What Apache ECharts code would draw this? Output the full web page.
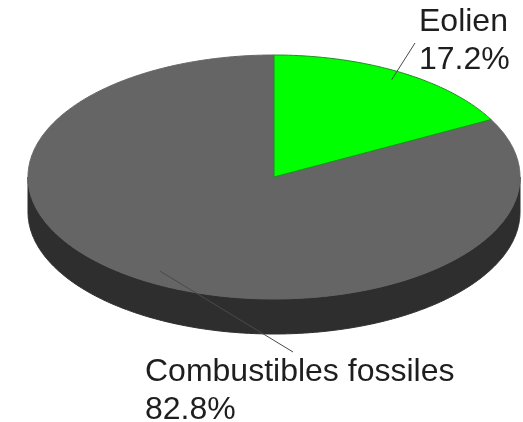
<!DOCTYPE html>
<html>
<head>
<meta charset="utf-8">
<script src="https://cdn.jsdelivr.net/npm/echarts@6/dist/echarts.min.js"></script>
<style>
html,body{margin:0;padding:0;background:#fff;}
#main{width:523px;height:422px;}
</style>
</head>
<body>
<div id="main"></div>
<script>
// ---- data ----
const categories = ['Eolien', 'Combustibles fossiles'];
const values = [17.2, 82.8];
const topColors = ['#00ff00', '#656565'];
const borderColors = ['#1e8c1e', '#656565'];
const sideColors = ['#1c9a1c', '#2e2e2e'];

// ---- layout ----
const L = {
  cx: 274, cy: 177, rx: 246, ry: 122, depth: 35,
  labelFont: 32, labelLine: 38,
  // label anchor (left x, first-line baseline) and leader end per item
  labels: [
    { x: 419, base: 33, lx: 415, ly: 43, r: 0.93 },
    { x: 145, base: 383, lx: 293, ly: 352, r: 0.9 }
  ]
};

const total = values.reduce((a, b) => a + b, 0);
function angles(i) {
  let before = 0;
  for (let k = 0; k < i; k++) before += values[k];
  return [before / total * Math.PI * 2, (before + values[i]) / total * Math.PI * 2];
}
function pt(t, r, dy) {
  r = r == null ? 1 : r;
  return [L.cx + L.rx * r * Math.sin(t), L.cy - L.ry * r * Math.cos(t) + (dy || 0)];
}
function arc(a0, a1, dy) {
  const n = Math.max(2, Math.ceil(Math.abs(a1 - a0) / 0.01));
  const out = [];
  for (let j = 0; j <= n; j++) out.push(pt(a0 + (a1 - a0) * j / n, 1, dy));
  return out;
}

const chart = echarts.init(document.getElementById('main'), null, { renderer: 'canvas' });
chart.setOption({
  animation: false,
  backgroundColor: '#ffffff',
  series: [
    {
      type: 'custom', coordinateSystem: 'none', silent: true, z: 1,
      data: values,
      renderItem: function (params, api) {
        const i = params.dataIndex;
        const a = angles(i);
        const s = Math.max(a[0], Math.PI / 2), e = Math.min(a[1], Math.PI * 1.5);
        if (e <= s) return { type: 'group', children: [] };
        const top = arc(s, e, 0);
        const bot = arc(e, s, L.depth);
        return {
          type: 'polygon',
          shape: { points: top.concat(bot) },
          style: { fill: sideColors[i], stroke: sideColors[i], lineWidth: 1 }
        };
      }
    },
    {
      type: 'custom', coordinateSystem: 'none', silent: true, z: 2,
      data: values,
      renderItem: function (params, api) {
        const i = params.dataIndex;
        const a = angles(i);
        const pts = [[L.cx, L.cy]].concat(arc(a[0], a[1], 0));
        return {
          type: 'polygon',
          z2: i === 0 ? 10 : 1,
          shape: { points: pts },
          style: { fill: topColors[i], stroke: borderColors[i], lineWidth: 1 }
        };
      }
    },
    {
      type: 'custom', coordinateSystem: 'none', silent: true, z: 3,
      data: values,
      renderItem: function (params, api) {
        const i = params.dataIndex;
        const a = angles(i);
        const mid = (a[0] + a[1]) / 2;
        const lab = L.labels[i];
        const p0 = pt(mid, lab.r, 0);
        const pct = (api.value(0) / total * 100).toFixed(1) + '%';
        const off = 0.3465 * L.labelFont;
        return {
          type: 'group',
          children: [
            {
              type: 'line',
              shape: { x1: p0[0], y1: p0[1], x2: lab.lx, y2: lab.ly },
              style: { stroke: '#4a4a4a', lineWidth: 1 }
            },
            {
              type: 'text',
              style: {
                text: categories[i], x: lab.x, y: lab.base - off,
                fill: '#1e1e1e', font: L.labelFont + 'px "Liberation Sans", Arial, sans-serif',
                textAlign: 'left', textVerticalAlign: 'middle'
              }
            },
            {
              type: 'text',
              style: {
                text: pct, x: lab.x, y: lab.base + L.labelLine - off,
                fill: '#1e1e1e', font: L.labelFont + 'px "Liberation Sans", Arial, sans-serif',
                textAlign: 'left', textVerticalAlign: 'middle'
              }
            }
          ]
        };
      }
    }
  ]
});
</script>
</body>
</html>
